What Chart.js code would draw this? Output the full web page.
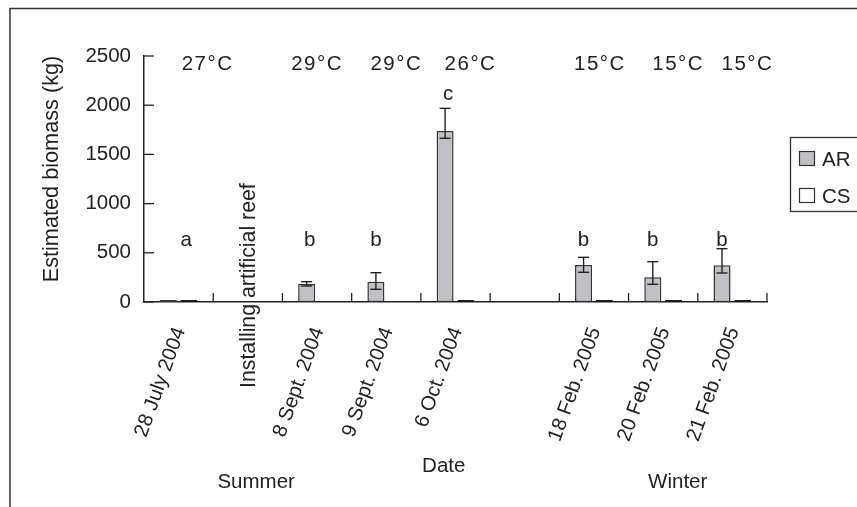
<!DOCTYPE html>
<html><head><meta charset="utf-8">
<script src="https://cdn.jsdelivr.net/npm/chart.js@4.4.1/dist/chart.umd.min.js"></script>
<style>html,body{margin:0;padding:0;background:#fff}</style>
</head><body>
<canvas id="c" width="857" height="507" style="width:857px;height:507px;display:block"></canvas>
<script>
// ---- data ----
const categories = ['28 July 2004','Installing artificial reef','8 Sept. 2004','9 Sept. 2004','6 Oct. 2004','','18 Feb. 2005','20 Feb. 2005','21 Feb. 2005'];
const eventIndex = 1;
const arValues   = [20, null, 183, 206, 1738, null, 376, 251, 373];
const arErrUpper = [null, null, 206, 298, 1968, null, 454, 410, 542];
const arErrLower = [null, null, 163, 129, 1664, null, 302, 180, 295];
const csValues   = [20, null, null, null, 20, null, 20, 20, 20];
const temperatures = ['27°C', null, '29°C', '29°C', '26°C', null, '15°C', '15°C', '15°C'];
const letters      = ['a', null, 'b', 'b', 'c', null, 'b', 'b', 'b'];
const yTicks = [0, 500, 1000, 1500, 2000, 2500];
const seasons = ['Summer', 'Winter'];
const xTitle = 'Date';
const yTitle = 'Estimated biomass (kg)';

// ---- styles / layout ----
const FONT = '"Liberation Sans", Arial, Helvetica, sans-serif';
const INK = '#222';
const AR_FILL = '#c0c1c4';
const tempOffsets = [29, 0, 0, 10, 15, 0, 6, 15, 15];
const letterOffsets = [18, 0, 3, 0, 3, 0, 0, 0, 0];
const seasonAt = [1.12, 7.21];
const xTitleAt = 3.83;

const decor = {
  id: 'decor',
  afterDraw(chart) {
    const {ctx, scales: {x, y}, chartArea: ca} = chart;
    const line = (x1, y1, x2, y2) => { ctx.beginPath(); ctx.moveTo(x1, y1); ctx.lineTo(x2, y2); ctx.stroke(); };
    ctx.save();
    // outer frame
    ctx.strokeStyle = '#333'; ctx.lineWidth = 1.5;
    ctx.beginPath(); ctx.moveTo(10, 507); ctx.lineTo(10, 8.5); ctx.lineTo(857, 8.5); ctx.stroke();
    // inward tick marks
    ctx.strokeStyle = INK; ctx.lineWidth = 1.3;
    y.ticks.forEach(t => { const py = y.getPixelForValue(t.value); line(ca.left, py, ca.left + 10, py); });
    for (let i = 1; i <= categories.length; i++) {
      const px = x.getPixelForValue(i - 0.5);
      line(px, ca.bottom, px, ca.bottom - 9);
    }
    // error bars
    const meta = chart.getDatasetMeta(0);
    ctx.lineWidth = 1.4;
    meta.data.forEach((bar, i) => {
      if (arErrUpper[i] == null) return;
      const yt = y.getPixelForValue(arErrUpper[i]);
      const yb = y.getPixelForValue(arErrLower[i]);
      line(bar.x, yt, bar.x, yb);
      line(bar.x - 5.5, yt, bar.x + 5.5, yt);
      line(bar.x - 5.5, yb, bar.x + 5.5, yb);
    });
    ctx.fillStyle = INK;
    // significance letters
    ctx.font = '20.5px ' + FONT; ctx.textAlign = 'center'; ctx.textBaseline = 'alphabetic';
    const baseY = y.getPixelForValue(570);
    meta.data.forEach((bar, i) => {
      if (!letters[i]) return;
      let by = baseY;
      if (arErrUpper[i] != null) {
        const et = y.getPixelForValue(arErrUpper[i]);
        if (et < baseY - 30) by = et - 8;
      }
      ctx.fillText(letters[i], bar.x + letterOffsets[i], by);
    });
    // temperatures
    ctx.letterSpacing = '1.5px';
    temperatures.forEach((t, i) => {
      if (!t) return;
      ctx.fillText(t, x.getPixelForValue(i) + tempOffsets[i], 70);
    });
    ctx.letterSpacing = '0px';
    // event label (vertical)
    ctx.save();
    ctx.font = '21.3px ' + FONT;
    ctx.translate(x.getPixelForValue(eventIndex) + 1, 388);
    ctx.rotate(-Math.PI / 2);
    ctx.textAlign = 'left'; ctx.textBaseline = 'middle';
    ctx.fillText(categories[eventIndex], 0, 0);
    ctx.restore();
    // season labels and axis titles
    ctx.font = '20.5px ' + FONT; ctx.textAlign = 'center'; ctx.textBaseline = 'alphabetic';
    seasons.forEach((s, i) => ctx.fillText(s, x.getPixelForValue(seasonAt[i]), 488));
    ctx.fillText(xTitle, x.getPixelForValue(xTitleAt), 472);
    ctx.save();
    ctx.font = '21.7px ' + FONT;
    ctx.translate(52, 169); ctx.rotate(-Math.PI / 2);
    ctx.textBaseline = 'middle';
    ctx.fillText(yTitle, 0, 0);
    ctx.restore();
    // legend
    ctx.strokeStyle = '#333'; ctx.lineWidth = 1.3;
    ctx.strokeRect(790.5, 137.5, 80, 74);
    const ds = chart.data.datasets;
    const rowsY = [151, 188];
    ds.forEach((d, i) => {
      ctx.fillStyle = d.backgroundColor;
      ctx.fillRect(799, rowsY[i], 16, 15);
      ctx.strokeStyle = '#333'; ctx.lineWidth = 1.2;
      ctx.strokeRect(799.5, rowsY[i] + 0.5, 15, 14);
      ctx.fillStyle = INK; ctx.textAlign = 'left'; ctx.textBaseline = 'alphabetic';
      ctx.font = '20.5px ' + FONT;
      ctx.fillText(d.label, 822, rowsY[i] + 14.5);
    });
    ctx.restore();
  }
};

new Chart(document.getElementById('c'), {
  type: 'bar',
  data: {
    labels: categories,
    datasets: [
      { label: 'AR', data: arValues, backgroundColor: AR_FILL, borderColor: '#333', borderWidth: 1.5,
        borderSkipped: false, categoryPercentage: 0.6, barPercentage: 0.82 },
      { label: 'CS', data: csValues, backgroundColor: '#ffffff', borderColor: '#1a1a1a', borderWidth: 1.5,
        borderSkipped: false, categoryPercentage: 0.6, barPercentage: 0.82 }
    ]
  },
  options: {
    responsive: false,
    animation: false,
    devicePixelRatio: 1,
    layout: { padding: { left: 0, right: 90, top: 56, bottom: 0 } },
    plugins: { legend: { display: false }, tooltip: { enabled: false } },
    scales: {
      x: {
        grid: { display: false, drawTicks: false },
        border: { display: true, color: INK, width: 1.5 },
        ticks: {
          autoSkip: false, minRotation: 70, maxRotation: 70, padding: 22, labelOffset: 1.5,
          color: INK, font: { family: FONT, size: 20.3 },
          callback: (v, i) => i === eventIndex ? '' : categories[i]
        },
        afterFit: s => { s.height = 205; }
      },
      y: {
        min: 0, max: 2500,
        grid: { display: false, drawTicks: false },
        border: { display: true, color: INK, width: 1.5 },
        afterBuildTicks: s => { s.ticks = yTicks.map(v => ({ value: v })); },
        ticks: { padding: 13, color: INK, font: { family: FONT, size: 20.5 }, callback: v => String(v) },
        afterFit: s => { s.width = 144; }
      }
    }
  },
  plugins: [decor]
});
</script>
</body></html>
